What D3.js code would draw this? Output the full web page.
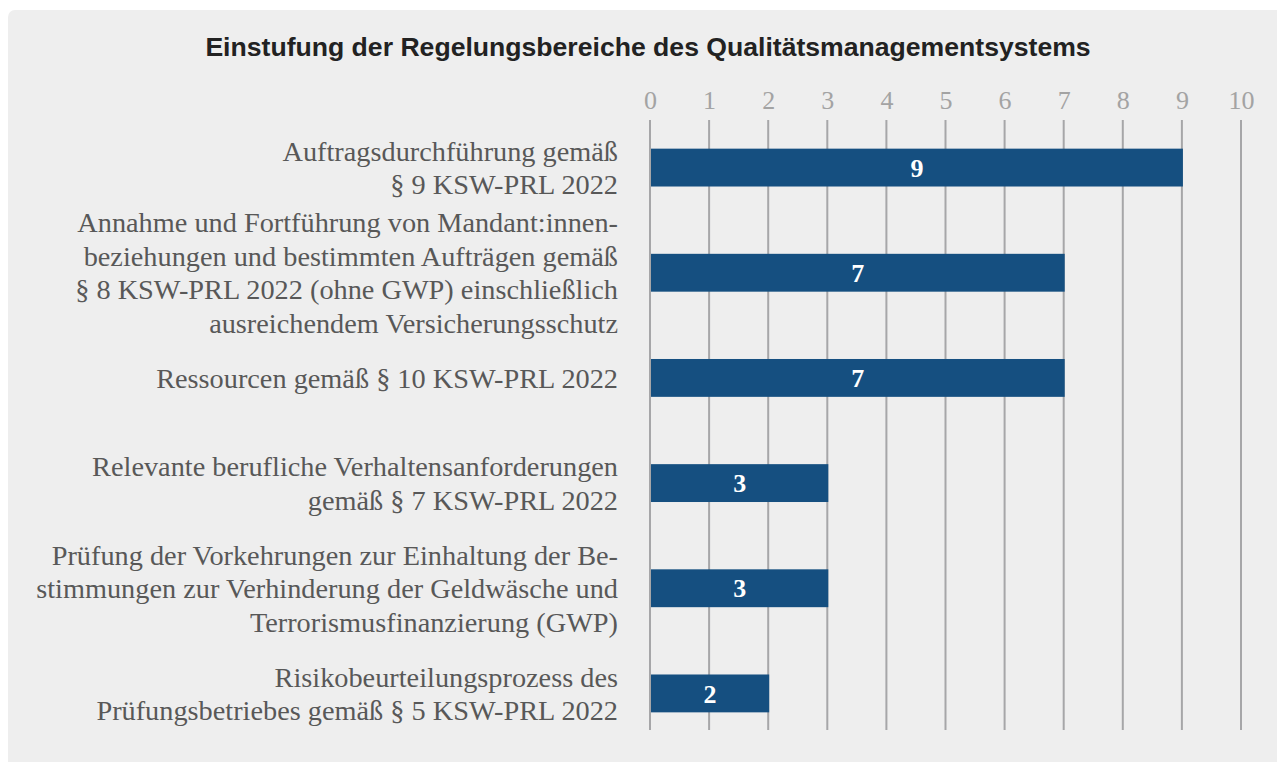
<!DOCTYPE html>
<html>
<head>
<meta charset="utf-8">
<script src="https://cdn.jsdelivr.net/npm/d3@7"></script>
<style>
  body { margin: 0; background: #ffffff; }
  svg { display: block; }
</style>
</head>
<body>
<div id="chart"></div>
<script>
// categories (one entry per bar, lines of the label)
const categories = [
    ["Auftragsdurchführung gemäß", "§ 9 KSW-PRL 2022"],
    ["Annahme und Fortführung von Mandant:innen-", "beziehungen und bestimmten Aufträgen gemäß", "§ 8 KSW-PRL 2022 (ohne GWP) einschließlich", "ausreichendem Versicherungsschutz"],
    ["Ressourcen gemäß § 10 KSW-PRL 2022"],
    ["Relevante berufliche Verhaltensanforderungen", "gemäß § 7 KSW-PRL 2022"],
    ["Prüfung der Vorkehrungen zur Einhaltung der Be-", "stimmungen zur Verhinderung der Geldwäsche und", "Terrorismusfinanzierung (GWP)"],
    ["Risikobeurteilungsprozess des", "Prüfungsbetriebes gemäß § 5 KSW-PRL 2022"]
];
const values = [9, 7, 7, 3, 3, 2];
const tickValues = [0, 1, 2, 3, 4, 5, 6, 7, 8, 9, 10];
const title = "Einstufung der Regelungsbereiche des Qualitätsmanagementsystems";

const W = 1277, H = 762;
const x0 = 650, x1 = 1241;
const gridTop = 120, gridBottom = 730;
const serif = "'Liberation Serif', 'DejaVu Serif', serif";

const svg = d3.select("#chart").append("svg")
    .attr("width", W)
    .attr("height", H);

// panel
svg.append("rect")
    .attr("x", 8).attr("y", 10)
    .attr("width", W + 20).attr("height", H + 20)
    .attr("rx", 7)
    .attr("fill", "#eeeeee");

svg.append("text")
    .attr("x", 648).attr("y", 56)
    .attr("text-anchor", "middle")
    .attr("font-family", "'Liberation Sans', Arial, sans-serif")
    .attr("font-weight", "bold")
    .attr("font-size", 26.6)
    .attr("fill", "#222222")
    .text(title);

const xScale = d3.scaleLinear().domain([0, 10]).range([x0, x1]);
const ids = categories.map((c, i) => i);
const yScale = d3.scaleBand(ids, [115, 746]).paddingInner(0.64).paddingOuter(0.32);

// top axis labels
const xAxis = d3.axisTop(xScale).tickValues(tickValues).tickSize(0).tickPadding(0);
const gx = svg.append("g")
    .attr("transform", "translate(0, 109)")
    .call(xAxis);
gx.select(".domain").remove();
gx.selectAll("text")
    .attr("font-family", serif)
    .attr("font-size", 26)
    .attr("fill", "#a3a3a3");

// grid lines
svg.append("g")
    .selectAll("line")
    .data(tickValues)
    .enter()
    .append("line")
    .attr("x1", d => xScale(d))
    .attr("x2", d => xScale(d))
    .attr("y1", gridTop)
    .attr("y2", gridBottom)
    .attr("stroke", "#a6a6a8")
    .attr("stroke-width", 2);

// bars
svg.append("g")
    .selectAll("rect")
    .data(values)
    .enter()
    .append("rect")
    .attr("x", xScale(0) + 1)
    .attr("y", (d, i) => yScale(i))
    .attr("width", d => xScale(d) - xScale(0))
    .attr("height", yScale.bandwidth())
    .attr("fill", "#154f80");

// value labels
svg.append("g")
    .selectAll("text")
    .data(values)
    .enter()
    .append("text")
    .attr("x", d => (xScale(d) + xScale(0)) / 2 + 1)
    .attr("y", (d, i) => yScale(i) + yScale.bandwidth() / 2)
    .attr("dy", "0.35em")
    .attr("text-anchor", "middle")
    .attr("font-family", serif)
    .attr("font-weight", "bold")
    .attr("font-size", 26)
    .attr("fill", "#ffffff")
    .text(d => d);

// category labels
const lineH = 33.5;
const labels = svg.append("g")
    .selectAll("text")
    .data(categories)
    .enter()
    .append("text")
    .attr("text-anchor", "end")
    .attr("font-family", serif)
    .attr("font-size", 28.3)
    .attr("fill", "#585858");

labels.each(function (lines, i) {
    const cy = yScale(i) + yScale.bandwidth() / 2;
    const start = cy - (lines.length - 1) * lineH / 2;
    d3.select(this).selectAll("tspan")
        .data(lines)
        .enter()
        .append("tspan")
        .attr("x", 618)
        .attr("y", (l, j) => start + j * lineH)
        .attr("dy", "0.35em")
        .text(l => l);
});
</script>
</body>
</html>
